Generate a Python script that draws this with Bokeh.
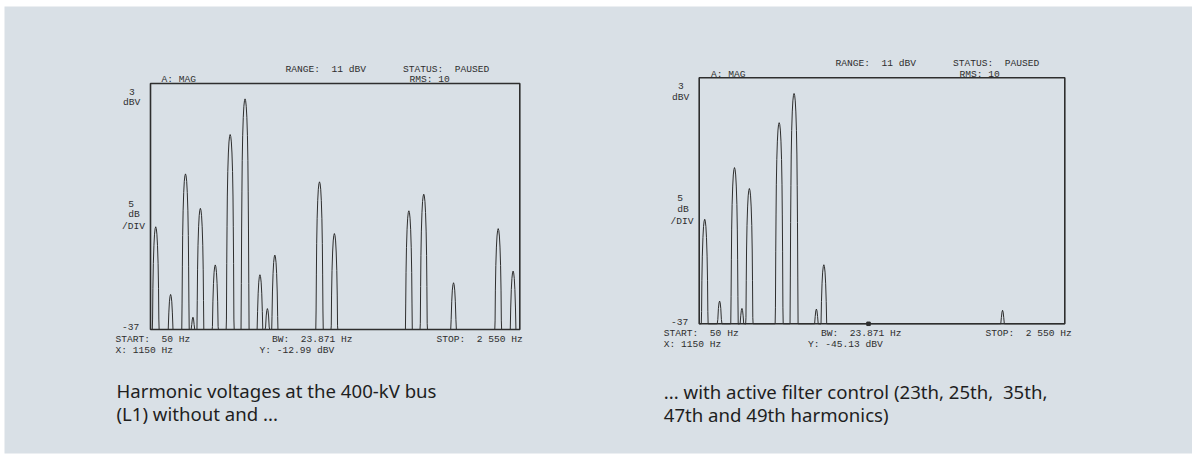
from bokeh.plotting import figure
from bokeh.models import Label, Range1d
from bokeh.embed import file_html
from bokeh.resources import INLINE

# ---------------- data ----------------
FLOOR = -37.0
TOP = 3.0

# spectrum without active filter control (Hz, dBV)
freq_without = [50, 150, 250, 300, 350, 450, 550, 650, 750, 800, 850,
                1150, 1250, 1750, 1850, 2050, 2350, 2450]
level_without = [-20.3, -31.3, -11.7, -35.0, -17.3, -26.5, -5.3, 0.5, -28.1, -33.6, -24.9,
                 -12.99, -21.4, -17.7, -15.0, -29.4, -20.6, -27.5]

# spectrum with active filter control (Hz, dBV)
freq_with = [50, 150, 250, 300, 350, 550, 650, 800, 850, 2050]
level_with = [-20.0, -33.3, -11.6, -34.5, -15.0, -4.3, 0.45, -34.6, -27.4, -34.8]

marker_freq = 1150
marker_level_without = -12.99
marker_level_with = -45.13

caption_without = ["Harmonic voltages at the 400-kV bus", "(L1) without and ..."]
caption_with = ["... with active filter control (23th, 25th,\u00a0 35th,",
                "47th and 49th harmonics)"]

header_texts = ["A: MAG", "RANGE:\u00a0 11 dBV", "STATUS:\u00a0 PAUSED", "RMS: 10"]
scale_texts = ["3", "dBV", "5", "dB", "/DIV", "-37"]
footer_texts_without = ["START:\u00a0 50 Hz", "X: 1150 Hz", "BW:\u00a0 23.871 Hz",
                        "Y: -12.99 dBV", "STOP:\u00a0 2 550 Hz"]
footer_texts_with = ["START:\u00a0 50 Hz", "X: 1150 Hz", "BW:\u00a0 23.871 Hz",
                     "Y: -45.13 dBV", "STOP:\u00a0 2 550 Hz"]

# ---------------- style / layout ----------------
BG = "#d9e0e6"
INK = "#2e2e2e"
MONO = "Liberation Mono"
MONO_SIZE = "9.6px"
CAP_FONT = "Noto Sans"
CAP_SIZE = "18.6px"

W, H = 1192, 455
FL, FT, FR, FB = 4, 6, 1192, 453          # panel (frame) in page pixels

# shape of one analyser line (offset Hz, drop dB) - drawing template
peak_offset_hz = [-27, -25, -23, -21, -19, -16, -12, -8, -4, 0, 4, 8, 12, 16, 19, 21, 23, 25, 27]
peak_drop_db = [45, 30, 21, 15, 10, 6, 3, 1.2, 0.3, 0, 0.3, 1.2, 3, 6, 10, 15, 21, 30, 45]


def trace(freqs, levels, x0, x1):
    xs, ys = [x0], [FLOOR]
    for f, lv in zip(freqs, levels):
        for o, d in zip(peak_offset_hz, peak_drop_db):
            xs.append(f + o)
            ys.append(max(lv - d, FLOOR))
    xs.append(x1)
    ys.append(FLOOR)
    return xs, ys


def fit_range(d0, d1, p0, p1, f0, f1):
    """range whose values d0..d1 fall on page pixels p0..p1 of a frame spanning f0..f1"""
    k = (d1 - d0) / (p1 - p0)
    return Range1d(d0 - (p0 - f0) * k, d1 + (f1 - p1) * k)


# panel 1 (without): spectrum box in page pixels
X1 = (15, 2495)
BOX1 = (150, 519.3, 83, 329)
# panel 2 (with)
X2 = (13, 2468)
BOX2 = (698.7, 1064.3, 77.3, 323.3)

p = figure(width=W, height=H, output_backend="svg", toolbar_location=None,
           x_axis_location=None, y_axis_location=None, title=None,
           x_range=fit_range(X1[0], X1[1], BOX1[0], BOX1[1], FL, FR),
           y_range=fit_range(FLOOR, TOP, BOX1[3], BOX1[2], FB, FT))
p.extra_x_ranges = {"x2": fit_range(X2[0], X2[1], BOX2[0], BOX2[1], FL, FR)}
p.extra_y_ranges = {"y2": fit_range(FLOOR, TOP, BOX2[3], BOX2[2], FB, FT)}
p.min_border_left = FL
p.min_border_top = FT
p.min_border_right = W - FR
p.min_border_bottom = H - FB
p.background_fill_color = BG
p.border_fill_color = "white"
p.outline_line_color = None
p.grid.visible = False

# panel 1
xs, ys = trace(freq_without, level_without, X1[0], X1[1])
p.line(xs, ys, line_color=INK, line_width=1.0)
p.quad(left=[X1[0]], right=[X1[1]], bottom=[FLOOR], top=[TOP],
       fill_color=None, line_color=INK, line_width=1.6)

# panel 2
xs, ys = trace(freq_with, level_with, X2[0], X2[1])
p.line(xs, ys, line_color=INK, line_width=1.0, x_range_name="x2", y_range_name="y2")
p.quad(left=[X2[0]], right=[X2[1]], bottom=[FLOOR], top=[TOP],
       fill_color=None, line_color=INK, line_width=1.6, x_range_name="x2", y_range_name="y2")
p.scatter([marker_freq], [max(marker_level_with, FLOOR)], marker="square", size=3.5,
          color=INK, x_range_name="x2", y_range_name="y2")


def lab(txt, ax, ay, font=MONO, size=MONO_SIZE, color=INK):
    p.add_layout(Label(x=ax - FL, y=FB - ay, x_units="screen", y_units="screen",
                       text=txt, text_font=font, text_font_size=size,
                       text_color=color, text_baseline="alphabetic", text_align="left"))


def texts(hdr_pos, scale_pos, foot_pos, footer, caption, cap_pos):
    for t, (ax, ay) in zip(header_texts, hdr_pos):
        lab(t, ax, ay)
    for t, (ax, ay) in zip(scale_texts, scale_pos):
        lab(t, ax, ay)
    for t, (ax, ay) in zip(footer, foot_pos):
        lab(t, ax, ay)
    for t, (ax, ay) in zip(caption, cap_pos):
        lab(t, ax, ay, font=CAP_FONT, size=CAP_SIZE, color="#1e1e1e")


texts(hdr_pos=[(161, 79), (285, 68.5), (402.5, 68.5), (409, 79)],
      scale_pos=[(128.5, 91), (122.5, 101.8), (127.8, 203.5), (127.8, 214.2), (121.5, 225.8), (121.5, 326.8)],
      foot_pos=[(115, 338.5), (115, 349.5), (271.5, 338.5), (259, 349.5), (436, 338.5)],
      footer=footer_texts_without, caption=caption_without,
      cap_pos=[(116, 390), (116, 413)])

texts(hdr_pos=[(710.5, 74), (835, 62.8), (952.5, 62.8), (959, 74)],
      scale_pos=[(677.5, 85.2), (671.5, 96.8), (676.8, 197.8), (676.8, 209.4), (670, 220.8), (670.5, 321.2)],
      foot_pos=[(663.3, 333.4), (663.3, 344.4), (820.5, 333.4), (807.5, 344.4), (985, 333.4)],
      footer=footer_texts_with, caption=caption_with,
      cap_pos=[(663.3, 391), (663.3, 414)])

open("out.html", "w").write(file_html(p, INLINE))
